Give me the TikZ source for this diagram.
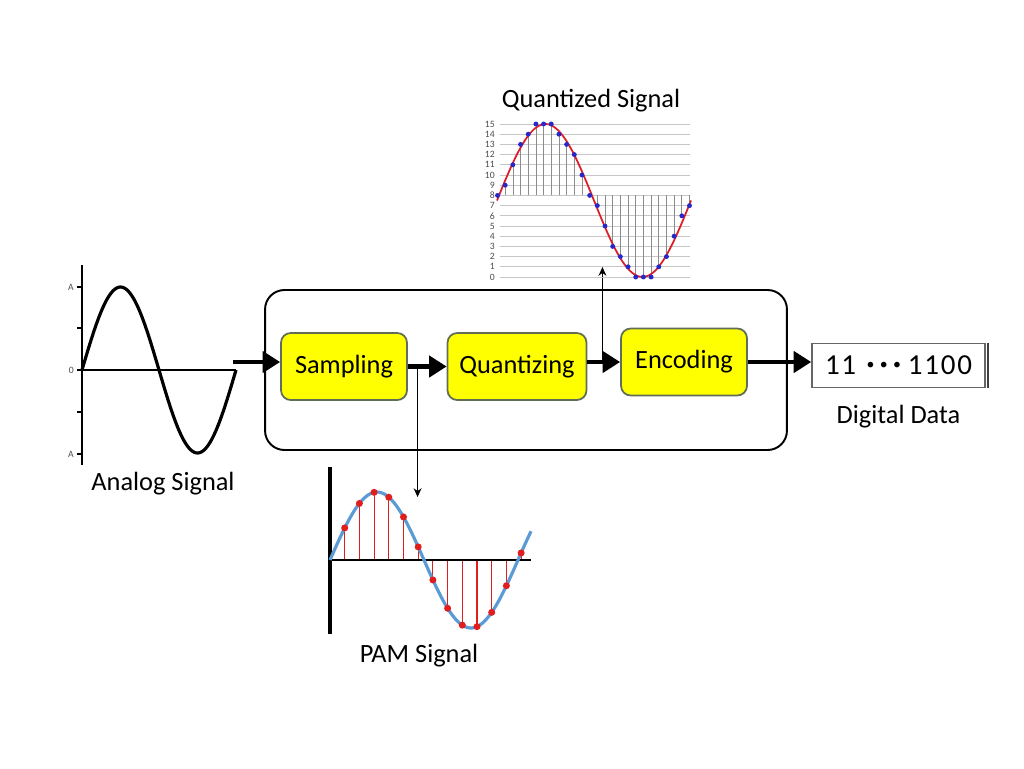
\documentclass[tikz,border=0pt]{standalone}
\usepackage{fontspec}
\setmainfont{Carlito}
\usepackage{xcolor}
\usepackage{tikz}
\usetikzlibrary{arrows.meta, positioning, calc}

\definecolor{stagefill}{RGB}{255,255,0}
\definecolor{stageline}{RGB}{95,110,85}
\definecolor{pamblue}{RGB}{91,155,213}
\definecolor{pamred}{RGB}{225,30,30}
\definecolor{qdot}{RGB}{40,40,200}
\definecolor{qred}{RGB}{220,30,40}

\newcommand{\dbul}{\raisebox{3pt}{\fontsize{9}{9}\selectfont •}}

\begin{document}
\begin{tikzpicture}[x=0.02cm, y=-0.02cm, every node/.style={font=\fontsize{15}{17}\selectfont},
  stage/.style={draw=stageline, line width=1pt, fill=stagefill, rounded corners=5.5pt,
    minimum width=2.52cm, minimum height=1.34cm, inner sep=0pt},
  flow/.style={line width=2.4pt, -{Triangle[length=10pt,width=12pt]}},
  tap/.style={line width=0.6pt, -{Stealth[length=5pt,width=4.5pt]}},
  tiny/.style={font=\fontsize{5.5}{6}\selectfont, text=black!70, inner sep=0.5pt}]
  \useasboundingbox (0,0) rectangle (1024,768);
  % ---------- ANALOG ----------
  \draw[line width=0.8pt] (82,265) -- (82,465);
  \draw[line width=0.6pt] (82,370) -- (236,370);
  \foreach \t in {287,328,370,412,454} \draw[line width=0.6pt] (77,\t) -- (82,\t);
  \node[tiny, anchor=east] at (75,287) {A};
  \node[tiny, anchor=east] at (75,370) {0};
  \node[tiny, anchor=east] at (75,454) {A};
  \draw[line width=1.8pt, domain=0:360, samples=90, smooth]
    plot ({82+0.42778*\x},{370-83*sin(\x)});
  \coordinate (sigend) at (233,362);
  \node at (163,484) {Analog Signal};
  % ---------- CHAIN ----------
  \node[draw, line width=1.1pt, rounded corners=11pt, minimum width=10.44cm,
    minimum height=3.2cm] (chain) at (526,370) {};
  \node[stage] (samp) at (344,366.5) {Sampling};
  \node[stage, minimum width=2.78cm] (quant) at (517,366.5) {Quantizing};
  \node[stage] (enc) at (684,362) {Encoding};
  \node[draw=black!60, line width=0.9pt, minimum width=3.46cm, minimum height=0.88cm,
    inner sep=0pt, font=\fontsize{16.5}{18}\selectfont] (dig) at (898.5,365.5)
    {1\hspace{1pt}1\hspace{6pt}\dbul\hspace{3pt}\dbul\hspace{3pt}\dbul\hspace{4pt}1\hspace{1pt}1\hspace{1pt}0\hspace{1pt}0};
  \draw[black!75, line width=1.2pt] ([xshift=1.2pt]dig.north east) -- ([xshift=1.2pt]dig.south east);
  \node[below=6pt of dig] (diglab) {Digital Data};
  \draw[flow] (sigend) -- (sigend -| samp.west);
  \draw[flow] (samp.east) -- (quant.west);
  \draw[flow] (enc.west -| quant.east) -- (enc.west);
  \draw[flow] (enc.east) -- (enc.east -| dig.west);
  % ---------- TAPS ----------
  \coordinate (samptap) at ($(samp.east)!0.25!(quant.west)$);
  \coordinate (quanttap) at ($(enc.west -| quant.east)!0.46!(enc.west)$);
  \coordinate (pamtop) at (417,497);
  \coordinate (qbottom) at (602,267);
  \draw[tap] (samptap) -- (samptap |- pamtop);
  \draw[tap] (quanttap) -- (quanttap |- qbottom);
  % ---------- PAM ----------
  \foreach \k in {1,...,13} {
    \pgfmathsetmacro\px{330+14.7*\k}
    \pgfmathsetmacro\py{560-68*sin(28.149*\k)}
    \draw[pamred, line width=0.6pt] (\px,560) -- (\px,\py);
  }
  \draw[line width=1.8pt] (330,467) -- (330,634);
  \draw[line width=1.4pt] (330,560) -- (531,560);
  \draw[pamblue, line width=1.8pt, domain=0:385, samples=80, smooth]
    plot ({330+0.52222*\x},{560-68*sin(\x)});
  \foreach \k in {1,...,13} {
    \pgfmathsetmacro\px{330+14.7*\k}
    \pgfmathsetmacro\py{560-68*sin(28.149*\k)}
    \fill[pamred] (\px,\py) circle (2pt);
  }
  \node at (419,656) {PAM Signal};
  % ---------- QUANTIZED ----------
  \foreach \L in {0,...,15} {
    \draw[black!22, line width=0.5pt] (500,{277-10.2*\L}) -- (690,{277-10.2*\L});
    \node[tiny, anchor=east] at (496,{277-10.2*\L}) {\L};
  }
  \foreach \v [count=\k from 0] in {8,9,11,13,14,15,15,15,14,13,12,10,8,7,5,3,2,1,0,0,0,1,2,4,6,7}
    \draw[black!45, line width=0.4pt] ({497.5+7.68*\k},195.4) -- ({497.5+7.68*\k},{277-10.2*\v});
  \draw[qred, line width=1pt, domain=497:691, samples=80, smooth]
    plot (\x,{277-10.2*(7.5+7.5*sin(1.8557*(\x-497)))});
  \foreach \v [count=\k from 0] in {8,9,11,13,14,15,15,15,14,13,12,10,8,7,5,3,2,1,0,0,0,1,2,4,6,7}
    \fill[qdot] ({497.5+7.68*\k},{277-10.2*\v}) circle (1.4pt);
  \node at (591,101) {Quantized Signal};
\end{tikzpicture}
\end{document}
